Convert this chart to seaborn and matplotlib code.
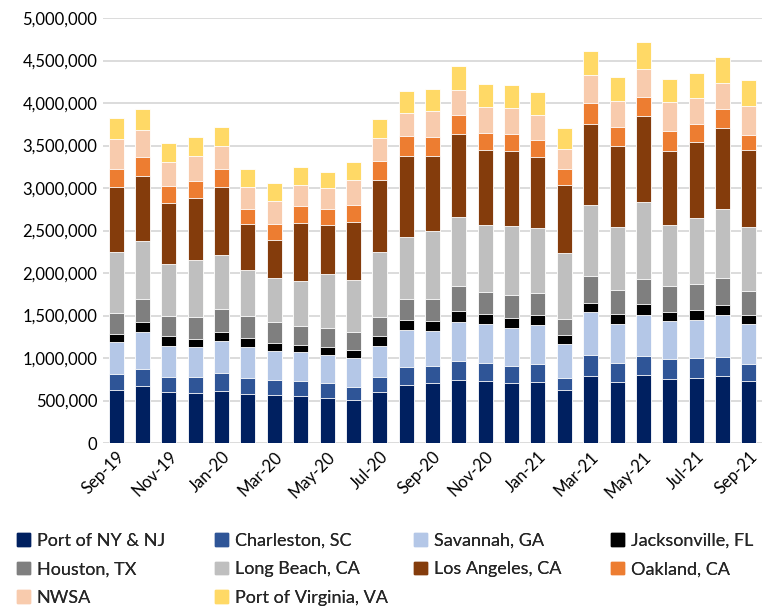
import matplotlib
matplotlib.use("Agg")
import matplotlib.pyplot as plt
import matplotlib.patches as mpatches
from matplotlib.ticker import FuncFormatter
import numpy as np
import pandas as pd
import seaborn as sns

# Meses
months = ["Sep-19", "Oct-19", "Nov-19", "Dec-19", "Jan-20", "Feb-20", "Mar-20", "Apr-20",
          "May-20", "Jun-20", "Jul-20", "Aug-20", "Sep-20", "Oct-20", "Nov-20", "Dec-20",
          "Jan-21", "Feb-21", "Mar-21", "Apr-21", "May-21", "Jun-21", "Jul-21", "Aug-21",
          "Sep-21"]

# TEU por puerto (miles)
ny_nj = [626, 665, 599, 587, 614, 571, 559, 556, 529, 502, 604, 682, 710, 741, 733, 702,
         714, 620, 784, 718, 800, 753, 761, 784, 729]
charleston = [188, 211, 183, 184, 208, 196, 184, 179, 173, 157, 173, 208, 196, 224, 208, 208,
              218, 149, 251, 219, 228, 231, 243, 232, 197]
savannah = [371, 435, 364, 356, 383, 367, 341, 337, 337, 341, 360, 443, 416, 463, 459, 447,
            456, 396, 502, 467, 478, 448, 447, 486, 474]
jacksonville = [98, 117, 110, 101, 102, 102, 94, 86, 91, 98, 118, 118, 117, 125, 114, 114,
                118, 102, 114, 118, 126, 113, 118, 118, 110]
houston = [247, 262, 242, 255, 273, 258, 246, 223, 227, 208, 231, 243, 255, 294, 263, 266,
           259, 196, 310, 274, 294, 298, 298, 317, 282]
long_beach = [712, 685, 603, 669, 626, 536, 516, 520, 628, 608, 757, 730, 796, 816, 784, 816,
              769, 773, 839, 745, 906, 722, 784, 812, 749]
los_angeles = [770, 766, 723, 735, 806, 548, 450, 685, 580, 690, 855, 957, 887, 973, 886, 883,
               835, 796, 953, 950, 1012, 875, 887, 957, 903]
oakland = [208, 219, 200, 196, 212, 176, 188, 203, 188, 196, 220, 227, 223, 219, 196, 204,
           196, 196, 244, 223, 223, 227, 219, 220, 184]
nwsa = [360, 320, 282, 297, 266, 258, 270, 251, 243, 298, 275, 279, 310, 302, 306, 306,
        298, 227, 333, 306, 337, 341, 302, 310, 333]
virginia = [240, 250, 224, 220, 230, 208, 215, 207, 197, 204, 219, 251, 255, 275, 279, 262,
            263, 251, 278, 282, 314, 279, 298, 302, 306]

ports = ["Port of NY & NJ", "Charleston, SC", "Savannah, GA", "Jacksonville, FL",
         "Houston, TX", "Long Beach, CA", "Los Angeles, CA", "Oakland, CA",
         "NWSA", "Port of Virginia, VA"]
colors = ["#002060", "#2F5597", "#B4C7E7", "#000000", "#7F7F7F",
          "#BFBFBF", "#843C0C", "#ED7D31", "#F8CBAD", "#FFD966"]

series = [ny_nj, charleston, savannah, jacksonville, houston,
          long_beach, los_angeles, oakland, nwsa, virginia]

df = pd.DataFrame({p: np.array(v) * 1000 for p, v in zip(ports, series)})
cum = df[ports].cumsum(axis=1)
cum["month"] = months

sns.set_theme(style="whitegrid")
plt.rcParams["font.family"] = ["Lato", "DejaVu Sans"]

fig = plt.figure(figsize=(7.62, 6.06), dpi=100)
ax = fig.add_axes([103 / 762, (606 - 443) / 606, 659 / 762, 425 / 606])

# barras apiladas: de arriba hacia abajo, cada una con su altura acumulada
for p, c in reversed(list(zip(ports, colors))):
    sns.barplot(data=cum, x="month", y=p, order=months, color=c, width=0.57,
                edgecolor="white", linewidth=0.6, saturation=1, ax=ax)

ax.set_ylim(0, 5000000)
ax.set_yticks(np.arange(0, 5000001, 500000))
ax.yaxis.set_major_formatter(FuncFormatter(lambda v, _: f"{int(v):,}"))
ax.set_xlim(-0.5, len(months) - 0.5)
ax.set_xticks(range(0, len(months), 2))
ax.set_xticklabels(months[::2], rotation=45, ha="right", rotation_mode="anchor")
ax.set_xlabel("")
ax.set_ylabel("")
ax.tick_params(axis="both", labelsize=12, colors="black", length=0, pad=4)
ax.grid(axis="y", color="#D9D9D9", linewidth=1.3)
ax.grid(axis="x", visible=False)
ax.set_axisbelow(True)
for s in ax.spines.values():
    s.set_visible(False)

# leyenda en 4 columnas, orden por filas
handles = [mpatches.Patch(color=c, label=p) for p, c in zip(ports, colors)]
col_x = [17 / 762, 215 / 762, 414 / 762, 611 / 762]
for j, x0 in enumerate(col_x):
    leg = fig.legend(handles=handles[j::4], loc="upper left", frameon=False,
                     bbox_to_anchor=(x0, (606 - 533) / 606),
                     fontsize=13, handlelength=0.7, handleheight=0.7, handletextpad=0.4,
                     labelspacing=0.68, borderaxespad=0, borderpad=0)
    fig.add_artist(leg)

fig.savefig("out.png", dpi=100)
